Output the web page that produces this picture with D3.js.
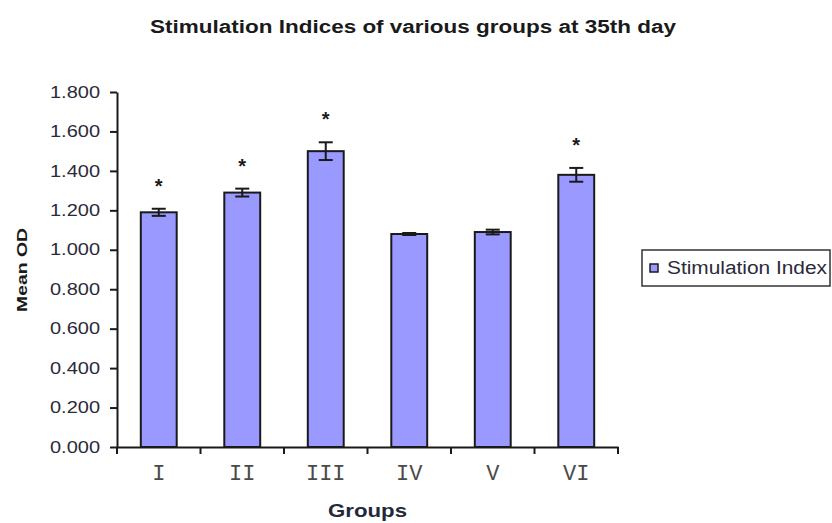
<!DOCTYPE html>
<html>
<head>
<meta charset="utf-8">
<script src="https://cdn.jsdelivr.net/npm/d3@7"></script>
<style>
  html, body { margin: 0; padding: 0; background: #fff; }
  svg { display: block; }
</style>
</head>
<body>
<svg id="chart" width="832" height="523"></svg>
<script>
// Stimulation index per treatment group at day 35
const groups = ["I", "II", "III", "IV", "V", "VI"];
const meanOD = [1.19, 1.29, 1.50, 1.08, 1.09, 1.38];
const errorOD = [0.018, 0.02, 0.045, 0.005, 0.012, 0.035];
const significant = [true, true, true, false, false, true];
const yTicks = [0, 0.2, 0.4, 0.6, 0.8, 1.0, 1.2, 1.4, 1.6, 1.8];

const svg = d3.select("#chart");
const barFill = "#9999ff";
const ink = "#1a1a1a";

const plot = { left: 117, right: 618, top: 92, bottom: 447 };

const x = d3.scaleBand()
  .domain(groups)
  .range([plot.left, plot.right])
  .paddingInner(0.57)
  .paddingOuter(0.285);

const y = d3.scaleLinear()
  .domain([0, 1.8])
  .range([plot.bottom, plot.top]);

// Title
svg.append("text")
  .attr("x", 150).attr("y", 33)
  .attr("textLength", 526).attr("lengthAdjust", "spacingAndGlyphs")
  .style("font-family", "'Liberation Sans', Arial, sans-serif")
  .style("font-size", "18px").style("font-weight", "bold")
  .attr("fill", ink)
  .text("Stimulation Indices of various groups at 35th day");

// Bars
svg.append("g").selectAll("rect")
  .data(groups)
  .join("rect")
  .attr("x", d => x(d))
  .attr("y", (d, i) => y(meanOD[i]))
  .attr("width", x.bandwidth())
  .attr("height", (d, i) => y(0) - y(meanOD[i]))
  .attr("fill", barFill)
  .attr("stroke", ink)
  .attr("stroke-width", 2);

// Error bars
const cap = 7;
const eb = svg.append("g").attr("stroke", ink).attr("stroke-width", 2);
groups.forEach((g, i) => {
  const cx = x(g) + x.bandwidth() / 2;
  const hi = y(meanOD[i] + errorOD[i]);
  const lo = y(meanOD[i] - errorOD[i]);
  eb.append("line").attr("x1", cx).attr("x2", cx).attr("y1", hi).attr("y2", lo);
  eb.append("line").attr("x1", cx - cap).attr("x2", cx + cap).attr("y1", hi).attr("y2", hi);
  eb.append("line").attr("x1", cx - cap).attr("x2", cx + cap).attr("y1", lo).attr("y2", lo);
});

// Significance markers
svg.append("g").selectAll("text")
  .data(groups.filter((g, i) => significant[i]))
  .join("text")
  .attr("x", d => x(d) + x.bandwidth() / 2)
  .attr("y", d => {
    const i = groups.indexOf(d);
    return y(meanOD[i] + errorOD[i]) - 16;
  })
  .attr("text-anchor", "middle")
  .style("font-family", "'Liberation Sans', Arial, sans-serif")
  .style("font-size", "20px").style("font-weight", "bold")
  .attr("fill", ink)
  .text("*");

// Y axis
const yAxis = svg.append("g")
  .attr("transform", `translate(${plot.left},0)`)
  .call(d3.axisLeft(y).tickValues(yTicks).tickFormat(d3.format(".3f"))
    .tickSize(7).tickSizeOuter(0).tickPadding(10));
yAxis.select(".domain").attr("stroke", ink).attr("stroke-width", 2);
yAxis.selectAll(".tick line").attr("stroke", ink).attr("stroke-width", 2);
yAxis.selectAll(".tick text")
  .attr("fill", "#2a2a3a")
  .attr("textLength", 50).attr("lengthAdjust", "spacingAndGlyphs")
  .style("font-family", "'Liberation Sans', Arial, sans-serif")
  .style("font-size", "16px");

// X axis: labels centred on bands, ticks on band boundaries
const xAxis = svg.append("g")
  .attr("transform", `translate(0,${plot.bottom})`)
  .call(d3.axisBottom(x).tickSize(0).tickSizeOuter(0).tickPadding(17));
xAxis.select(".domain").attr("stroke", ink).attr("stroke-width", 2);
xAxis.selectAll(".tick text")
  .attr("fill", "#4a4a4a")
  .style("font-family", "'Liberation Mono', 'Courier New', monospace")
  .style("font-size", "22px");

const bounds = d3.range(groups.length + 1).map(i => x.range()[0] + i * x.step());
svg.append("g").selectAll("line")
  .data(bounds)
  .join("line")
  .attr("x1", d => d).attr("x2", d => d)
  .attr("y1", plot.bottom).attr("y2", plot.bottom + 7)
  .attr("stroke", ink).attr("stroke-width", 2);

// Axis titles
svg.append("text")
  .attr("transform", "translate(27,270) rotate(-90)")
  .attr("text-anchor", "middle")
  .attr("textLength", 84).attr("lengthAdjust", "spacingAndGlyphs")
  .style("font-family", "'Liberation Sans', Arial, sans-serif")
  .style("font-size", "15px").style("font-weight", "bold")
  .attr("fill", ink)
  .text("Mean OD");

svg.append("text")
  .attr("x", 328).attr("y", 517)
  .attr("textLength", 79).attr("lengthAdjust", "spacingAndGlyphs")
  .style("font-family", "'Liberation Sans', Arial, sans-serif")
  .style("font-size", "18px").style("font-weight", "bold")
  .attr("fill", "#222a3a")
  .text("Groups");

// Legend
const legend = svg.append("g");
legend.append("rect")
  .attr("x", 642).attr("y", 250).attr("width", 188).attr("height", 36)
  .attr("fill", "#fff").attr("stroke", "#333").attr("stroke-width", 1.5);
legend.append("rect")
  .attr("x", 650).attr("y", 264).attr("width", 8).attr("height", 8)
  .attr("fill", barFill).attr("stroke", ink).attr("stroke-width", 1.5);
legend.append("text")
  .attr("x", 667).attr("y", 274)
  .attr("textLength", 160).attr("lengthAdjust", "spacingAndGlyphs")
  .style("font-family", "'Liberation Sans', Arial, sans-serif")
  .style("font-size", "18px")
  .attr("fill", "#2a2a3a")
  .text("Stimulation Index");
</script>
</body>
</html>
